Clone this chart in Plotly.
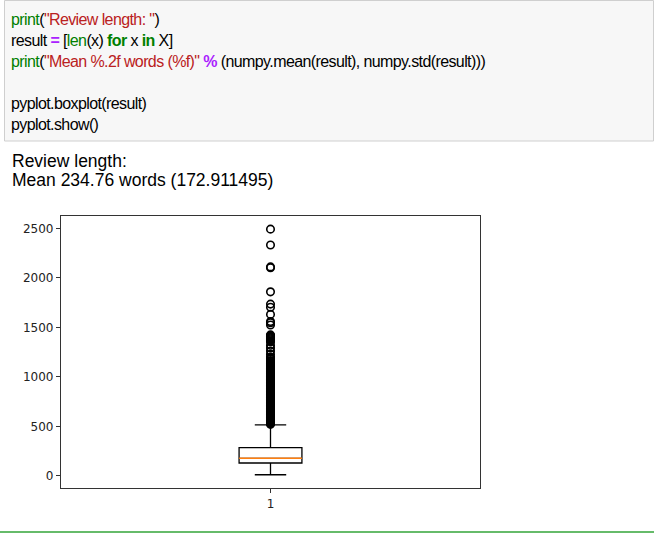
import plotly.graph_objects as go

# ---------------- data ----------------
box_label = [1]
q1 = [129]
median = [176]
q3 = [284]
lower_whisker = [10]
upper_whisker = [515]

outliers_sparse = [2494, 2334, 2112, 2104, 1860, 1736, 1704, 1632, 1560, 1547, 1524]
outliers_mid = [1425, 1418, 1410, 1402, 1395, 1386, 1376, 1366, 1356, 1320, 1292,
                1262, 1228, 1200, 1190, 1180]
outliers_dense = [1165, 1155, 1145, 1138, 1130, 1120, 1112, 1105, 1095, 1088, 1080,
                  1072, 1065, 1058, 1050, 1042, 1035, 1028, 1020, 1012, 1005, 998,
                  990, 982, 975, 968, 960, 952, 945, 938, 930, 922, 915, 908, 900,
                  892, 885, 878, 870, 862, 855, 848, 840, 832, 825, 818, 810, 802,
                  795, 788, 780, 772, 765, 758, 750, 742, 735, 728, 720, 712, 705,
                  698, 690, 682, 675, 668, 660, 652, 645, 638, 630, 622, 615, 608,
                  600, 592, 585, 578, 570, 562, 555, 548, 540, 533, 526, 520]
outliers = outliers_sparse + outliers_mid + outliers_dense

y_ticks = [0, 500, 1000, 1500, 2000, 2500]
x_ticks = [1]
x_tick_labels = ["1"]

output_lines = ["Review length:", "Mean 234.76 words (172.911495)"]

# ---------------- layout geometry ----------------
W, H = 654, 533
L, R, T, B = 61, 174, 216, 45
PW = W - L - R
PH = H - T - B


def px_x(x):
    return (x - L) / PW


def px_y(y):
    return (H - B - y) / PH


GREEN = "#008000"
RED = "#BA2121"
PURPLE = "#AA22FF"
NARROW = "letter-spacing:-0.6px"


def c(txt, col, bold=False):
    if bold:
        txt = "<b>" + txt + "</b>"
    return '<span style="color:%s;%s">%s</span>' % (col, NARROW, txt)


def k(txt):
    return '<span style="color:black;%s">%s</span>' % (NARROW, txt)


code_lines = [
    (c("print", GREEN) + k("(") + c('"Review length: "', RED) + k(")"), 19.5),
    (k("result ") + c("=", PURPLE, True) + k(" [") + c("len", GREEN) + k("(x) ")
     + c("for", GREEN, True) + k(" x ") + c("in", GREEN, True) + k(" X]"), 40.5),
    (c("print", GREEN) + k("(") + c('"Mean %.2f words (%f)"', RED) + k(" ")
     + c("%", PURPLE, True) + k(" (numpy.mean(result), numpy.std(result)))"), 61.5),
    (k("pyplot.boxplot(result)"), 103.5),
    (k("pyplot.show()"), 124.5),
]

fig = go.Figure()

fig.add_trace(go.Box(
    x=box_label, q1=q1, median=median, q3=q3,
    lowerfence=lower_whisker, upperfence=upper_whisker,
    width=0.15, whiskerwidth=0.5, boxpoints=False,
    fillcolor="rgba(255,255,255,0)",
    line=dict(color="black", width=1.3),
    hoverinfo="skip",
))

fig.add_trace(go.Scatter(
    x=[box_label[0] - 0.075, box_label[0] + 0.075],
    y=[median[0], median[0]],
    mode="lines", line=dict(color="#ff7f0e", width=1.5),
    hoverinfo="skip",
))

fig.add_trace(go.Scatter(
    x=[box_label[0]] * len(outliers), y=outliers,
    mode="markers",
    marker=dict(symbol="circle-open", size=7.5, color="black",
                line=dict(width=1.6, color="black")),
    hoverinfo="skip",
))

shapes = [
    # code cell
    dict(type="rect", xref="paper", yref="paper",
         x0=px_x(4.5), x1=px_x(653.5), y0=px_y(141), y1=px_y(0.5),
         fillcolor="#f7f7f7", line=dict(color="#cfcfcf", width=1), layer="below"),
    # bottom green line
    dict(type="line", xref="paper", yref="paper",
         x0=px_x(0), x1=px_x(654), y0=px_y(532), y1=px_y(532),
         line=dict(color="#66BB6A", width=2)),
]

annotations = []
for txt, yc in code_lines:
    annotations.append(dict(
        xref="paper", yref="paper", x=px_x(9), y=px_y(yc),
        xanchor="left", yanchor="middle", showarrow=False, text=txt,
        font=dict(family="Liberation Sans, Arial", size=16, color="black"),
    ))
for txt, yc in zip(output_lines, [160.5, 180.5]):
    annotations.append(dict(
        xref="paper", yref="paper", x=px_x(10), y=px_y(yc),
        xanchor="left", yanchor="middle", showarrow=False, text=txt,
        font=dict(family="Liberation Sans, Arial", size=17.5, color="black"),
    ))

fig.update_layout(
    width=W, height=H,
    margin=dict(l=L, r=R, t=T, b=B, pad=0),
    paper_bgcolor="white", plot_bgcolor="white",
    showlegend=False,
    shapes=shapes, annotations=annotations,
    xaxis=dict(range=[0.5, 1.5], tickvals=x_ticks, ticktext=x_tick_labels,
               showgrid=False, zeroline=False, showline=True, mirror=True,
               linecolor="#333", linewidth=1.3, ticks="outside", ticklen=4,
               tickwidth=1, tickcolor="#333",
               tickfont=dict(family="DejaVu Sans", size=12, color="#222")),
    yaxis=dict(range=[-124, 2627], tickvals=y_ticks,
               showgrid=False, zeroline=False, showline=True, mirror=True,
               linecolor="#333", linewidth=1.3, ticks="outside", ticklen=4,
               tickwidth=1, tickcolor="#333",
               tickfont=dict(family="DejaVu Sans", size=12, color="#222")),
)

fig.write_html("out.html", config={"displayModeBar": False},
               post_script="document.body.style.margin='0';document.body.style.padding='0';")
